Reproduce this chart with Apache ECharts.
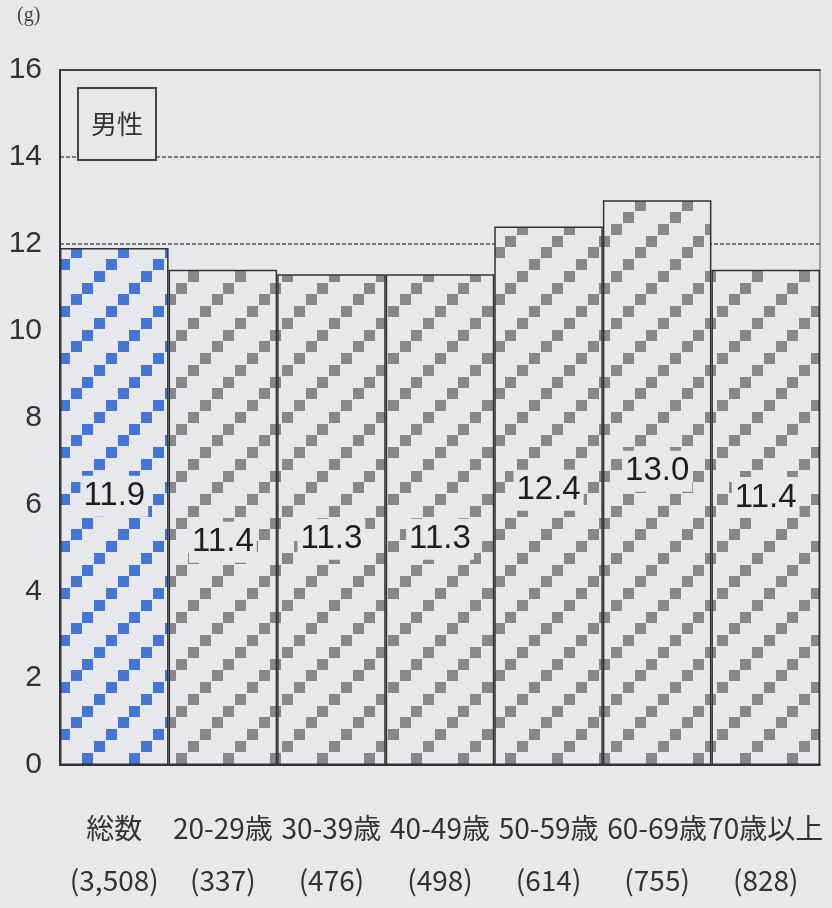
<!DOCTYPE html>
<html><head><meta charset="utf-8">
<script src="https://cdn.jsdelivr.net/npm/echarts@6/dist/echarts.min.js"></script>
<style>html,body{margin:0;padding:0;background:#e7e8ee;}#c{width:832px;height:908px;}</style>
</head><body><div id="c"></div>
<script>
const categories = ['総数', '20-29歳', '30-39歳', '40-49歳', '50-59歳', '60-69歳', '70歳以上'];
const counts = ['(3,508)', '(337)', '(476)', '(498)', '(614)', '(755)', '(828)'];
const values = [11.9, 11.4, 11.3, 11.3, 12.4, 13.0, 11.4];
const yTicks = [0, 2, 4, 6, 8, 10, 12, 14, 16];
const legendLabel = '男性';
const unitLabel = '(g)';

// style-only: vertical label placement inside each bar (percent of bar height)
const labelPosStyle = ['48%', '55%', '54%', '54%', '49%', '48%', '46%'];
const BG = '#e7e8ee';

function makePattern(color) {
  const s = 47, step = 11.75, sq = 11;
  const c = document.createElement('canvas');
  c.width = s; c.height = s;
  const g = c.getContext('2d');
  g.fillStyle = BG; g.fillRect(0, 0, s, s);
  g.fillStyle = color;
  for (let i = 0; i < 4; i++) {
    g.fillRect(Math.round(i * step), Math.round(s - (i + 1) * step + 0.5), sq, sq);
  }
  return c;
}
const bluePat = makePattern('#4676d2');
const greyPat = makePattern('#88888c');

const chart = echarts.init(document.getElementById('c'));
const numFont = '"Liberation Sans Narrow", "Liberation Sans", sans-serif';
const cjkFont = '"Noto Sans CJK JP", sans-serif';

chart.setOption({
  backgroundColor: BG,
  animation: false,
  title: {
    text: legendLabel, left: 78, top: 88,
    padding: [23, 13, 23, 13],
    borderColor: '#444', borderWidth: 2, backgroundColor: BG,
    textStyle: { fontFamily: cjkFont, fontSize: 26, fontWeight: 'normal', color: '#333' }
  },
  graphic: [{
    type: 'text', left: 17, top: 6,
    style: { text: unitLabel, font: '20px "Liberation Serif", serif', fill: '#444' }
  }],
  grid: { left: 60, right: 12, top: 70, bottom: 143, show: true, borderColor: '#888', borderWidth: 1.5, backgroundColor: 'transparent' },
  xAxis: [{
    type: 'category', data: categories,
    axisLine: { lineStyle: { color: '#333', width: 2 } },
    axisTick: { show: false },
    axisLabel: {
      interval: 0, margin: 37,
      formatter: (v, i) => v + '\n' + counts[i],
      fontFamily: cjkFont, fontSize: 28, lineHeight: 52, color: '#333'
    }
  }, {
    type: 'category', data: categories, position: 'top',
    axisLine: { lineStyle: { color: '#444', width: 2 } },
    axisTick: { show: false }, axisLabel: { show: false }
  }],
  yAxis: {
    type: 'value', min: yTicks[0], max: yTicks[yTicks.length - 1], interval: 2,
    axisLine: { show: true, lineStyle: { color: '#333', width: 2 } },
    axisTick: { show: false },
    axisLabel: { fontFamily: numFont, fontSize: 30, color: '#333', margin: 18 },
    splitLine: { lineStyle: { color: '#555', type: [4, 2], width: 1.5 } }
  },
  series: [{
    type: 'bar', barCategoryGap: 0, z: 3,
    data: values.map((v, i) => ({
      value: v,
      itemStyle: { color: { image: i === 0 ? bluePat : greyPat, repeat: 'repeat' } },
      label: { position: ['50%', labelPosStyle[i]] }
    })),
    itemStyle: { borderColor: '#333', borderWidth: 1.5 },
    label: {
      show: true, align: 'center', verticalAlign: 'middle',
      formatter: p => p.value.toFixed(1),
      fontFamily: numFont, fontSize: 33, color: '#1e1e1e',
      backgroundColor: BG, padding: [4, 3]
    }
  }]
});
</script></body></html>
